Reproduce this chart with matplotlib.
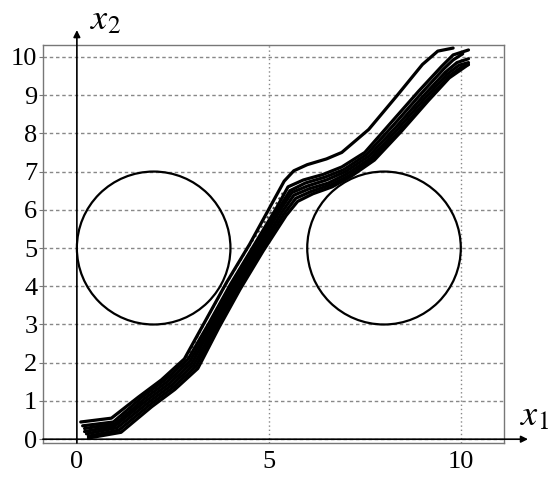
import matplotlib
matplotlib.use("Agg")
import matplotlib.pyplot as plt
from matplotlib.patches import Circle

plt.rcParams['mathtext.fontset'] = 'stix'
plt.rcParams['font.family'] = ['Liberation Serif', 'DejaVu Serif']

# Obstacles (center x, center y, radius)
obstacle_cx = [2.0, 8.0]
obstacle_cy = [5.0, 5.0]
obstacle_r = [2.0, 2.0]

# Trajectories (waypoints)
traj_x = [
    [0.10, 0.90, 1.60, 2.20, 2.80, 3.35, 3.90, 4.50, 5.10, 5.40, 5.65, 6.00, 6.50, 6.90, 7.60, 8.35, 9.00, 9.40, 9.80],
    [0.15, 0.95, 1.70, 2.30, 2.90, 3.45, 4.00, 4.60, 5.20, 5.50, 5.90, 6.40, 6.90, 7.50, 8.20, 8.90, 9.50, 9.80, 10.20],
    [0.20, 1.00, 1.75, 2.35, 2.95, 3.50, 4.05, 4.65, 5.25, 5.55, 5.95, 6.45, 6.95, 7.55, 8.25, 8.95, 9.55, 9.80, 10.05],
    [0.20, 1.00, 1.80, 2.40, 3.00, 3.55, 4.10, 4.70, 5.30, 5.60, 6.00, 6.50, 7.00, 7.60, 8.30, 9.00, 9.60, 9.90, 10.20],
    [0.25, 1.05, 1.85, 2.45, 3.05, 3.60, 4.15, 4.75, 5.35, 5.65, 6.05, 6.55, 7.05, 7.65, 8.35, 9.05, 9.65, 9.95, 10.20],
    [0.30, 1.10, 1.90, 2.50, 3.10, 3.65, 4.20, 4.80, 5.40, 5.70, 6.10, 6.60, 7.10, 7.70, 8.40, 9.10, 9.70, 10.00, 10.20],
    [0.30, 1.15, 1.95, 2.55, 3.15, 3.70, 4.25, 4.85, 5.45, 5.75, 6.15, 6.65, 7.15, 7.75, 8.45, 9.15, 9.70, 10.20],
]
traj_y = [
    [0.45, 0.55, 1.10, 1.55, 2.10, 3.10, 4.10, 5.10, 6.20, 6.75, 7.02, 7.18, 7.33, 7.50, 8.10, 9.00, 9.80, 10.15, 10.23],
    [0.35, 0.45, 1.10, 1.55, 2.10, 3.05, 4.05, 5.05, 6.05, 6.60, 6.78, 6.92, 7.12, 7.50, 8.30, 9.10, 9.75, 10.05, 10.18],
    [0.28, 0.40, 1.05, 1.50, 2.05, 3.02, 4.02, 5.02, 6.02, 6.50, 6.70, 6.85, 7.05, 7.45, 8.22, 9.02, 9.68, 9.92, 10.08],
    [0.20, 0.35, 1.00, 1.45, 2.00, 3.00, 4.00, 5.00, 6.00, 6.45, 6.62, 6.78, 7.00, 7.40, 8.15, 8.95, 9.60, 9.85, 9.95],
    [0.14, 0.30, 0.95, 1.40, 1.95, 2.97, 3.97, 4.97, 5.95, 6.38, 6.55, 6.70, 6.95, 7.35, 8.10, 8.90, 9.55, 9.78, 9.85],
    [0.08, 0.24, 0.90, 1.35, 1.90, 2.95, 3.95, 4.95, 5.90, 6.30, 6.48, 6.65, 6.90, 7.32, 8.05, 8.85, 9.50, 9.72, 9.80],
    [0.03, 0.18, 0.85, 1.30, 1.85, 2.92, 3.92, 4.92, 5.85, 6.22, 6.42, 6.60, 6.88, 7.30, 8.05, 8.85, 9.45, 9.80],
]

# Dotted reference trajectory
ref_x = [0.2, 1.0, 1.7, 2.8, 3.3, 3.85, 4.45, 5.1, 5.4]
ref_y = [0.3, 0.45, 1.0, 2.0, 3.0, 4.0, 5.0, 6.0, 6.5]

y_ticks = list(range(0, 11))
x_ticks = [0, 5, 10]
x_grid = [5, 10]

fig = plt.figure(figsize=(5.5, 4.87), dpi=100)
ax = fig.add_axes([0.078, 0.0903, 0.838, 0.8173])
ax.set_xlim(-0.885, 11.12)
ax.set_ylim(-0.1, 10.31)

for y in y_ticks:
    ax.axhline(y, color='#888888', lw=1.0, ls=(0, (2.5, 2)), zorder=1)
for x in x_grid:
    ax.axvline(x, color='#888888', lw=1.0, ls=(0, (1, 2)), zorder=1)

for cx, cy, r in zip(obstacle_cx, obstacle_cy, obstacle_r):
    ax.add_patch(Circle((cx, cy), r, fill=False, ec='black', lw=1.6, zorder=3))

ax.plot(ref_x, ref_y, color='#444444', lw=1.6, ls=(0, (1, 1.5)), zorder=2)
for tx, ty in zip(traj_x, traj_y):
    ax.plot(tx, ty, color='black', lw=2.3, zorder=4,
            solid_joinstyle='round', solid_capstyle='round')

# axes arrows
ax.annotate('', xy=(0, 10.7), xytext=(0, -0.1), xycoords='data',
            arrowprops=dict(arrowstyle='-|>', color='black', lw=1.2,
                            mutation_scale=10, shrinkA=0, shrinkB=0),
            annotation_clip=False, zorder=5)
ax.annotate('', xy=(11.75, 0.0), xytext=(-0.885, 0.0), xycoords='data',
            arrowprops=dict(arrowstyle='-|>', color='black', lw=1.2,
                            mutation_scale=10, shrinkA=0, shrinkB=0),
            annotation_clip=False, zorder=5)

ax.text(0.35, 10.95, r'$x_2$', fontsize=26, ha='left', va='center')
ax.text(11.55, 0.6, r'$x_1$', fontsize=26, ha='left', va='center')

ax.set_xticks(x_ticks)
ax.set_yticks(y_ticks)
ax.set_xticklabels([str(v) for v in x_ticks], fontsize=19)
ax.set_yticklabels([str(v) for v in y_ticks], fontsize=19)
ax.tick_params(axis='y', direction='out', length=3, width=0.8, pad=1, color='#777777')
ax.tick_params(axis='x', length=0, pad=6)
for s in ax.spines.values():
    s.set_color('#777777')
    s.set_linewidth(1.0)

fig.savefig('out.png', dpi=100)
